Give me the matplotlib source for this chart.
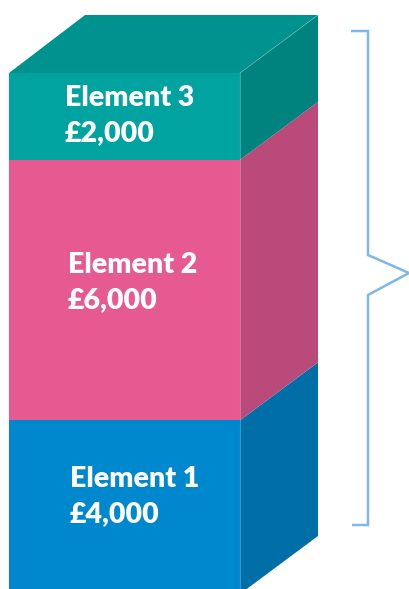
import matplotlib
matplotlib.use("Agg")
import matplotlib.pyplot as plt
from matplotlib.patches import Polygon

# ---- data ----
elements = ["Element 1", "Element 2", "Element 3"]
values = [4000, 6000, 2000]
value_labels = ["£4,000", "£6,000", "£2,000"]

# ---- style ----
front_colors = ["#0088CE", "#E65991", "#00A3A0"]
side_colors = ["#006FA8", "#B94A79", "#00837F"]
top_color = "#00928F"
brace_color = "#7DB8E8"
label_x = [70, 68, 65]          # px
label_nudge = [-9, -8, -1]      # px shift of label block relative to segment centre

W, H = 409, 589
fig = plt.figure(figsize=(W / 100, H / 100), dpi=100)
ax = fig.add_axes([0, 0, 1, 1])

# y axis in value units: 1 unit = px_per_unit pixels, value 0 at pixel 594
px_per_unit = (594 - 73) / 12000.0
y_bottom_px = 594
ymin = (y_bottom_px - H) / px_per_unit
ymax = y_bottom_px / px_per_unit
ax.set_xlim(0, W)
ax.set_ylim(ymin, ymax)
ax.axis("off")

x0, x1 = 9, 240            # front face
dx = 78                    # depth in px (x)
dy = 58 / px_per_unit      # depth in value units (y)

def py(p):
    return (y_bottom_px - p) / px_per_unit

base = 0
for i, v in enumerate(values):
    lo, hi = base, base + v
    front = Polygon([(x0, lo), (x1, lo), (x1, hi), (x0, hi)], closed=True,
                    facecolor=front_colors[i], edgecolor="none")
    side = Polygon([(x1, lo), (x1 + dx, lo + dy), (x1 + dx, hi + dy), (x1, hi)],
                   closed=True, facecolor=side_colors[i], edgecolor="none")
    ax.add_patch(side)
    ax.add_patch(front)
    lo_px = min(y_bottom_px - lo * px_per_unit, H)
    hi_px = y_bottom_px - hi * px_per_unit
    c = (lo_px + hi_px) / 2 + label_nudge[i]
    ax.text(label_x[i], py(c - 9), elements[i], color="white", fontsize=20.5,
            fontweight="heavy", family="Lato", va="baseline", ha="left")
    ax.text(label_x[i], py(c + 26), value_labels[i], color="white", fontsize=20.5,
            fontweight="heavy", family="Lato", va="baseline", ha="left")
    base = hi

total = base
top = Polygon([(x0, total), (x1, total), (x1 + dx, total + dy), (x0 + dx - 2, total + dy)],
              closed=True, facecolor=top_color, edgecolor="none")
ax.add_patch(top)
# subtle edges
ax.plot([x1, x1], [ymin, total], color="white", alpha=0.25, lw=0.8)
ax.plot([x1, x1 + dx], [total, total + dy], color="white", alpha=0.2, lw=0.6)

# ---- brace ----
bx = 368
brace_x = [351, bx, bx, 409, bx, bx, 352]
brace_y = [py(31), py(31), py(255), py(273), py(295), py(525), py(525)]
ax.plot(brace_x, brace_y, color=brace_color, lw=1.8, solid_joinstyle="miter",
        solid_capstyle="butt", clip_on=False)

fig.savefig("out.png", dpi=100)
